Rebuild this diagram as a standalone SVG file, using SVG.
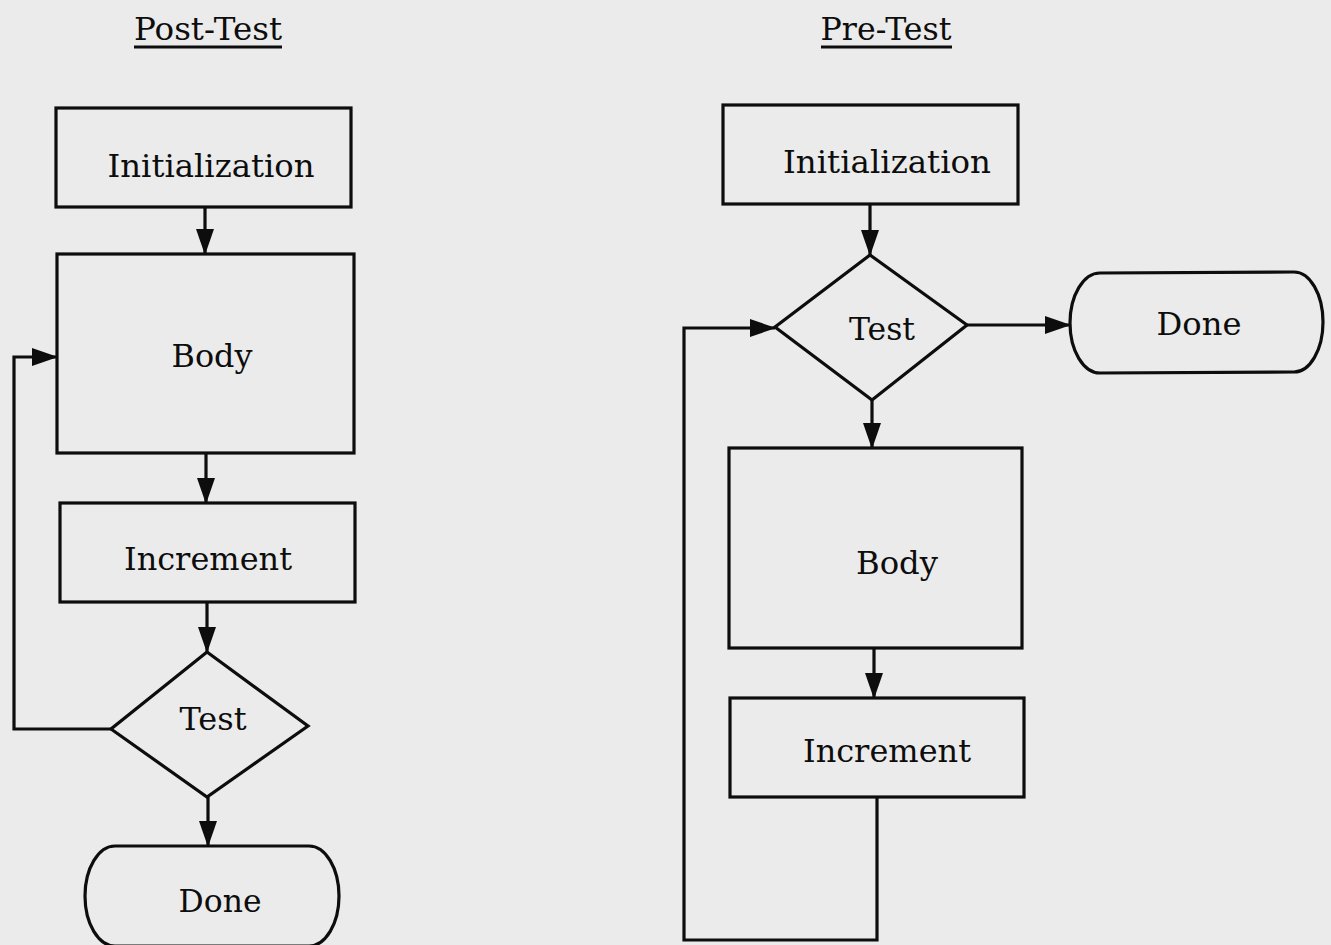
<svg xmlns="http://www.w3.org/2000/svg" width="1331" height="945" viewBox="0 0 1331 945">
<defs>
<marker id="ah" markerUnits="userSpaceOnUse" markerWidth="26" markerHeight="18" refX="25" refY="9" orient="auto">
<path d="M0,0 L26,9 L0,18 Z" fill="#0d0d0d"/>
</marker>
<style>
.s{fill:none;stroke:#0d0d0d;stroke-width:3.2;stroke-linejoin:miter}
.c{fill:none;stroke:#0d0d0d;stroke-width:3.2;marker-end:url(#ah)}
.l{fill:none;stroke:#0d0d0d;stroke-width:3.2}
text{font-family:"DejaVu Serif","Liberation Serif",serif;font-size:31px;fill:#0d0d0d;text-anchor:middle}
</style>
</defs>
<rect width="1331" height="945" fill="#ebebeb"/>
<g id="title-post">
<text x="208" y="40" textLength="148" lengthAdjust="spacingAndGlyphs">Post-Test</text>
<line x1="134" y1="47" x2="282" y2="47" class="l"/>
</g>
<g id="title-pre">
<text x="886" y="40" textLength="131" lengthAdjust="spacingAndGlyphs">Pre-Test</text>
<line x1="821" y1="47" x2="952" y2="47" class="l"/>
</g>
<g id="post-init">
<rect x="56" y="108" width="295" height="99" class="s"/>
<text x="211" y="177" textLength="207" lengthAdjust="spacingAndGlyphs">Initialization</text>
</g>
<g id="post-body">
<rect x="57" y="254" width="297" height="199" class="s"/>
<text x="212" y="367" textLength="81" lengthAdjust="spacingAndGlyphs">Body</text>
</g>
<g id="post-increment">
<rect x="60" y="503" width="295" height="99" class="s"/>
<text x="208" y="570" textLength="168" lengthAdjust="spacingAndGlyphs">Increment</text>
</g>
<g id="post-test">
<polygon points="207,652 308,726 207,797 111,729" class="s"/>
<text x="213" y="730" textLength="67" lengthAdjust="spacingAndGlyphs">Test</text>
</g>
<g id="post-done">
<path d="M115,846 L309,846 A30,50 0 0 1 309,946 L115,946 A30,50 0 0 1 115,846 Z" class="s"/>
<text x="220" y="912" textLength="83" lengthAdjust="spacingAndGlyphs">Done</text>
</g>
<g id="pre-init">
<rect x="723" y="105" width="295" height="99" class="s"/>
<text x="887" y="173" textLength="208" lengthAdjust="spacingAndGlyphs">Initialization</text>
</g>
<g id="pre-test">
<polygon points="870,255 967,325 872,400 775,327" class="s"/>
<text x="882" y="340" textLength="66" lengthAdjust="spacingAndGlyphs">Test</text>
</g>
<g id="pre-done">
<path d="M1100,273 L1294,272 A29,50 0 0 1 1294,372 L1100,373 A30,50 0 0 1 1100,273 Z" class="s"/>
<text x="1199" y="335" textLength="85" lengthAdjust="spacingAndGlyphs">Done</text>
</g>
<g id="pre-body">
<rect x="729" y="448" width="293" height="200" class="s"/>
<text x="897" y="574" textLength="82" lengthAdjust="spacingAndGlyphs">Body</text>
</g>
<g id="pre-increment">
<rect x="730" y="698" width="294" height="99" class="s"/>
<text x="887" y="762" textLength="168" lengthAdjust="spacingAndGlyphs">Increment</text>
</g>
<g id="connectors">
<line x1="205" y1="207" x2="205" y2="254" class="c"/>
<line x1="206" y1="453" x2="206" y2="503" class="c"/>
<line x1="207" y1="602" x2="207" y2="652" class="c"/>
<line x1="208" y1="797" x2="208" y2="846" class="c"/>
<polyline points="111,729 14,729 14,357 57,357" class="c"/>
<line x1="870" y1="204" x2="870" y2="255" class="c"/>
<line x1="967" y1="325" x2="1070" y2="325" class="c"/>
<line x1="872" y1="400" x2="872" y2="448" class="c"/>
<line x1="874" y1="648" x2="874" y2="698" class="c"/>
<polyline points="877,797 877,940 684,940 684,328 775,328" class="c"/>
</g>
</svg>
